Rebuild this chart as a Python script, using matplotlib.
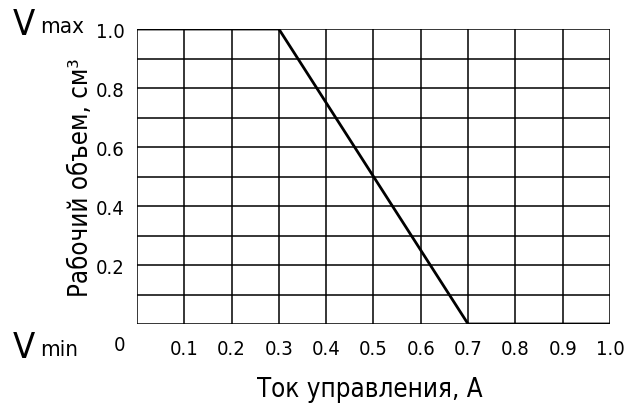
import matplotlib
matplotlib.use('Agg')
import matplotlib.pyplot as plt
import numpy as np

plt.rcParams['font.family'] = ['DejaVu Sans']
plt.rcParams['font.stretch'] = 'condensed'

# control current, A -> working volume (fraction of Vmax)
current = [0.0, 0.3, 0.7, 1.0]
volume = [1.0, 1.0, 0.0, 0.0]

x_ticks = [0.1, 0.2, 0.3, 0.4, 0.5, 0.6, 0.7, 0.8, 0.9, 1.0]
x_labels = ['0.1', '0.2', '0.3', '0.4', '0.5', '0.6', '0.7', '0.8', '0.9', '1.0']
y_ticks = [0.2, 0.4, 0.6, 0.8, 1.0]
y_labels = ['0.2', '0.4', '0.6', '0.8', '1.0']

fig = plt.figure(figsize=(6.35, 4.10), dpi=100)
ax = fig.add_axes([0.2157, 0.2073, 0.7449, 0.7195])

# grid cells every 0.1 in both directions
for gx in np.arange(0, 11) / 10:
    ax.axvline(gx, color='black', lw=1.1, zorder=1)
for gy in np.arange(0, 11) / 10:
    ax.axhline(gy, color='black', lw=1.1, zorder=1)

ax.plot(current, volume, color='black', lw=2.0, zorder=3, solid_capstyle='butt')

ax.set_xlim(0, 1.0)
ax.set_ylim(0, 1.0)
for s in ax.spines.values():
    s.set_visible(False)

ax.set_xticks(x_ticks)
ax.set_xticklabels(x_labels, fontsize=14.5)
ax.set_yticks(y_ticks)
ax.set_yticklabels(y_labels, fontsize=14.5)
ax.tick_params(length=0)
ax.tick_params(axis='x', pad=11)
ax.tick_params(axis='y', pad=9)

ax.text(-0.025, -0.07, '0', transform=ax.transAxes, ha='right', va='center', fontsize=14.5)

# Vmax / Vmin markers at the left
fig.text(0.02, 0.94, 'V', fontsize=26, ha='left', va='center')
fig.text(0.063, 0.935, 'max', fontsize=16, ha='left', va='center')
fig.text(0.02, 0.15, 'V', fontsize=26, ha='left', va='center')
fig.text(0.063, 0.147, 'min', fontsize=16, ha='left', va='center')

ax.set_ylabel('Рабочий объем, см³', fontsize=18.5)
ax.yaxis.set_label_coords(-0.09, 0.5)
ax.set_xlabel('Ток управления, А', fontsize=18.5)
ax.xaxis.set_label_coords(0.493, -0.175)

fig.savefig('out.png', dpi=100)
